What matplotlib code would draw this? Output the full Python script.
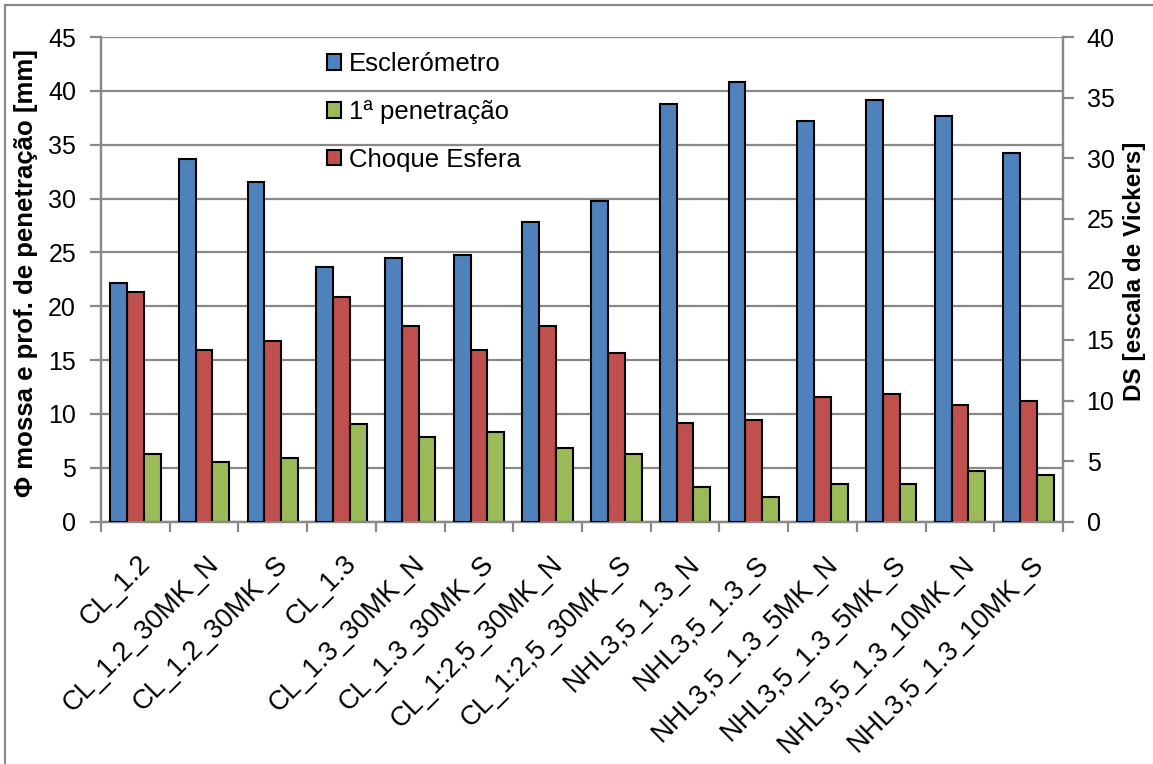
import numpy as np
import matplotlib.pyplot as plt
from matplotlib.patches import Rectangle
from matplotlib.transforms import ScaledTranslation

plt.rcParams['font.family'] = ['Liberation Sans', 'DejaVu Sans']

categories = ['CL_1.2', 'CL_1.2_30MK_N', 'CL_1.2_30MK_S', 'CL_1.3', 'CL_1.3_30MK_N',
              'CL_1.3_30MK_S', 'CL_1:2,5_30MK_N', 'CL_1:2,5_30MK_S', 'NHL3,5_1.3_N',
              'NHL3,5_1.3_S', 'NHL3,5_1.3_5MK_N', 'NHL3,5_1.3_5MK_S',
              'NHL3,5_1.3_10MK_N', 'NHL3,5_1.3_10MK_S']

# Esclerometro (DS, right axis)
esclerometro = [19.7, 29.9, 28.0, 21.0, 21.8, 22.0, 24.7, 26.5, 34.5, 36.3, 33.1, 34.8, 33.5, 30.4]
# 1a penetracao (mm, left axis)
penetracao = [6.3, 5.5, 5.9, 9.1, 7.9, 8.3, 6.8, 6.3, 3.2, 2.3, 3.5, 3.5, 4.7, 4.3]
# Choque Esfera (mm, left axis)
choque = [21.3, 15.9, 16.8, 20.9, 18.2, 15.9, 18.2, 15.7, 9.2, 9.4, 11.6, 11.9, 10.8, 11.2]

blue = '#4F81BD'
red = '#C0504D'
green = '#9BBB59'
grey = '#898989'

fig = plt.figure(figsize=(11.53, 7.64), dpi=100)
ax = fig.add_axes([101 / 1153, 1 - 521.7 / 764, 962 / 1153, 484.7 / 764])
ax2 = ax.twinx()

x = np.arange(len(categories))
w = 0.245

ax.bar(x, choque, w, color=red, edgecolor='black', linewidth=1.5, zorder=3)
ax.bar(x + w, penetracao, w, color=green, edgecolor='black', linewidth=1.5, zorder=3)
ax2.bar(x - w, esclerometro, w, color=blue, edgecolor='black', linewidth=1.5, zorder=3)

ax.set_ylim(0, 45)
ax2.set_ylim(0, 40)
ax.set_yticks(np.arange(0, 46, 5))
ax2.set_yticks(np.arange(0, 41, 5))
ax.set_xlim(-0.5, len(categories) - 0.5)

ax.yaxis.grid(True, color=grey, linewidth=1.6, zorder=0)
ax.set_axisbelow(True)

for a in (ax, ax2):
    a.spines['top'].set_visible(False)
    for s in ('left', 'right', 'bottom'):
        a.spines[s].set_color(grey)
        a.spines[s].set_linewidth(1.6)
    a.tick_params(axis='y', length=8, width=1.6, color=grey, labelsize=18)
ax.tick_params(axis='y', pad=10)
ax2.tick_params(axis='y', pad=9)

# category boundaries as major ticks, labels on minor ticks
ax.set_xticks(np.arange(len(categories) + 1) - 0.5)
ax.set_xticklabels([])
ax.tick_params(axis='x', which='major', length=7, width=1.6, color=grey)
ax.set_xticks(x, minor=True)
ax.set_xticklabels(categories, minor=True, rotation=45, ha='right', va='top',
                   rotation_mode='anchor', fontsize=19.5)
ax.tick_params(axis='x', which='minor', length=0, pad=21)
shift = ScaledTranslation(2 / 100, 0, fig.dpi_scale_trans)
for lab in ax.get_xticklabels(minor=True):
    lab.set_transform(lab.get_transform() + shift)

fig.text(26 / 1153, 0.643, 'Φ mossa e prof. de penetração [mm]', rotation=90,
         ha='center', va='center', fontsize=18.5, fontweight='bold')
fig.text(1135 / 1153, 0.645, 'DS [escala de Vickers]', rotation=90,
         ha='center', va='center', fontsize=17.5, fontweight='bold')

handles = [Rectangle((0, 0), 1, 1, facecolor=c, edgecolor='black', linewidth=1.5)
           for c in (blue, green, red)]
ax2.legend(handles, ['Esclerómetro', '1ª penetração', 'Choque Esfera'],
           loc='upper left', bbox_to_anchor=(327 / 1153, 1 - 52 / 764),
           bbox_transform=fig.transFigure, frameon=False, fontsize=18.5,
           handlelength=0.55, handleheight=0.55, handletextpad=0.3,
           labelspacing=0.93, borderpad=0, borderaxespad=0)

# chart area border (cropped on right and bottom)
fig.patches.append(Rectangle((5 / 1153, -0.1), 1.2, 1 - 5 / 764 + 0.1,
                             transform=fig.transFigure, fill=False,
                             edgecolor=grey, linewidth=1.6))

plt.savefig('out.png', dpi=100)
